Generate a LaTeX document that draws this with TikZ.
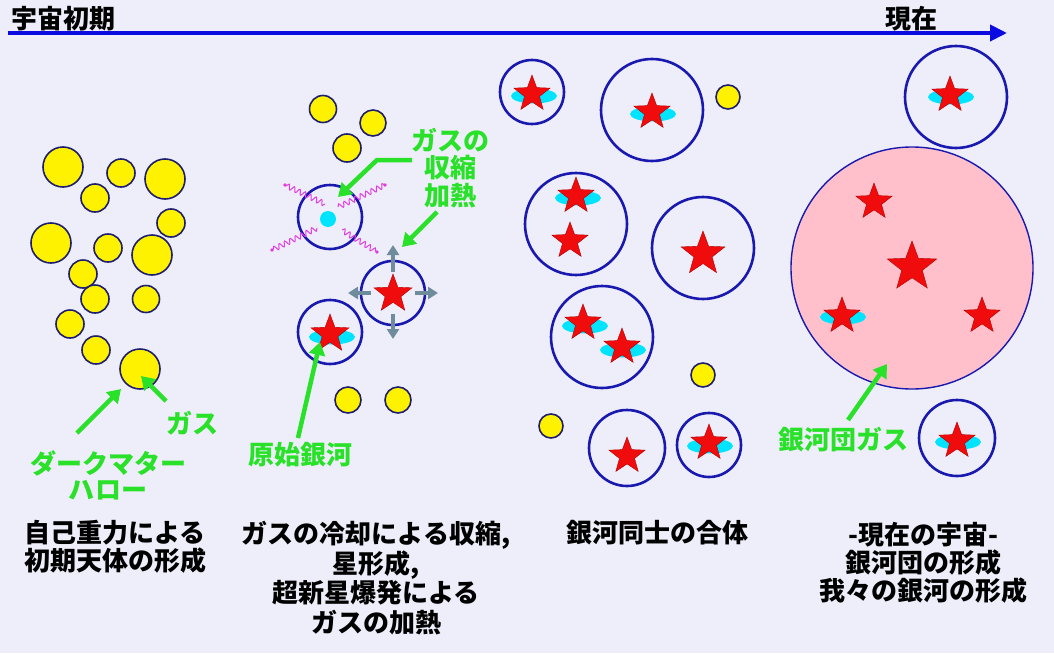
\documentclass[tikz,border=0pt]{standalone}
\usepackage{fontspec}
\newfontfamily\jp{Noto Sans CJK JP}
\usetikzlibrary{shapes.geometric,arrows.meta,decorations.pathmorphing}
\definecolor{bg}{RGB}{238,238,250}
\definecolor{tblue}{RGB}{10,10,225}
\definecolor{gblue}{RGB}{25,25,175}
\definecolor{ynavy}{RGB}{30,30,110}
\definecolor{ggreen}{RGB}{40,225,40}
\definecolor{sgrey}{RGB}{110,140,155}
\definecolor{wmag}{RGB}{225,60,225}
\definecolor{pinkfill}{RGB}{255,192,203}
\definecolor{sred}{RGB}{240,12,12}
\definecolor{dcyan}{RGB}{0,228,255}
\begin{document}
\begin{tikzpicture}[x=1pt,y=-1pt,
  ycirc/.style={circle,fill=yellow,draw=ynavy,line width=1.6pt,inner sep=0pt,minimum size=#1},
  gal/.style={circle,draw=gblue,line width=2.6pt,inner sep=0pt,minimum size=#1},
  rstar/.style={star,star points=5,star point ratio=2.4,fill=sred,draw=red!70!black,line width=0.4pt,inner sep=0pt,minimum size=#1},
  disk/.style={ellipse,fill=dcyan,inner sep=0pt,minimum width=46pt,minimum height=15pt},
  lab/.style={font={\jp\bfseries\fontsize{26}{28}\selectfont},inner sep=0pt,align=center},
  glab/.style={lab,text=ggreen},
  garr/.style={draw=ggreen,line width=4.5pt,-{Triangle[length=13pt,width=16pt]}},
  sarr/.style={draw=sgrey,line width=3.2pt,-{Triangle[length=10pt,width=12pt]}},
  wave/.style={draw=wmag,line width=1pt,decorate,decoration={snake,segment length=6pt,amplitude=2.6pt}}
]
\useasboundingbox (0,0) rectangle (1054,653);
\fill[bg] (0,0) rectangle (1054,653);

% timeline
\coordinate (tl0) at (8,33);
\coordinate (tl1) at (1007,33);
\draw[tblue,line width=4pt,-{Triangle[length=17pt,width=16pt]}] (tl0) -- (tl1);
\node[lab,anchor=west] (early) at (11,19) {宇宙初期};
\node[lab,anchor=west] (now) at (885,19) {現在};

% column 1
\node[ycirc=40] (y1) at (63,167) {};
\node[ycirc=28] (y2) at (95,198) {};
\node[ycirc=28] (y3) at (121,173) {};
\node[ycirc=40] (y4) at (165,179) {};
\node[ycirc=28] (y5) at (171,223) {};
\node[ycirc=40] (y6) at (51,243) {};
\node[ycirc=28] (y7) at (108,248) {};
\node[ycirc=40] (y8) at (152,255) {};
\node[ycirc=28] (y9) at (83,274) {};
\node[ycirc=28] (y10) at (95,299) {};
\node[ycirc=27] (y11) at (146,299) {};
\node[ycirc=28] (y12) at (70,324) {};
\node[ycirc=28] (y13) at (96,350) {};
\node[ycirc=40] (y14) at (140,369) {};

\coordinate (dm0) at (77,433);
\coordinate (dm1) at (121,389);
\draw[garr] (dm0) -- (dm1);
\coordinate (gs0) at (166,401);
\coordinate (gs1) at (141,376);
\draw[garr] (gs0) -- (gs1);
\node[glab] (lgas) at (192,423) {ガス};
\node[glab,font={\jp\bfseries\fontsize{26}{26}\selectfont}] (ldm) at (108,475) {ダークマター\\ハロー};

% column 2
\node[ycirc=27] (y15) at (323,109) {};
\node[ycirc=26] (y16) at (373,123) {};
\node[ycirc=28] (y17) at (347,148) {};
\node[ycirc=26] (y18) at (348,400) {};
\node[ycirc=26] (y19) at (398,400) {};

\node[gal=64] (g1) at (330,217) {};
\node[circle,fill=dcyan,inner sep=0pt,minimum size=16pt] (core) at (328,219) {};
\coordinate (w1a) at (285,185); \coordinate (w1b) at (325,204);
\coordinate (w2a) at (385,185); \coordinate (w2b) at (338,207);
\coordinate (w3a) at (272,250); \coordinate (w3b) at (317,228);
\coordinate (w4a) at (377,252); \coordinate (w4b) at (342,230);
\draw[wave] (w1b) -- (w1a);
\draw[wave] (w2b) -- (w2a);
\draw[wave] (w3b) -- (w3a);
\draw[wave] (w4b) -- (w4a);
\foreach \w in {w1a,w2a,w3a,w4a} \fill[wmag] (\w) circle (1.8pt);

\node[gal=64] (g2) at (393,293) {};
\node[rstar=40] (s2) at (393,294) {};
\coordinate (eu0) at (393,272); \coordinate (eu1) at (393,245);
\coordinate (ed0) at (393,314); \coordinate (ed1) at (393,339);
\coordinate (el0) at (371,293); \coordinate (el1) at (348,293);
\coordinate (er0) at (415,293); \coordinate (er1) at (438,293);
\draw[sarr] (eu0) -- (eu1);
\draw[sarr] (ed0) -- (ed1);
\draw[sarr] (el0) -- (el1);
\draw[sarr] (er0) -- (er1);

\node[gal=64] (g3) at (330,332) {};
\node[disk] (d3) at (332,337) {};
\node[rstar=40] (s3) at (330,334) {};

\node[glab,font={\jp\bfseries\fontsize{26}{27.5}\selectfont}] (lcomp) at (450,168) {ガスの\\収縮\\加熱};
\coordinate (ca0) at (412,160);
\coordinate (ca1) at (377,160);
\coordinate (ca2) at (338,197);
\draw[garr] (ca0) -- (ca1) -- (ca2);
\coordinate (cb0) at (437,212);
\coordinate (cb1) at (402,247);
\draw[garr] (cb0) -- (cb1);

\node[glab] (lproto) at (300,455) {原始銀河};
\coordinate (pa0) at (298,438);
\coordinate (pa1) at (320,342);
\draw[garr] (pa0) -- (pa1);

% column 3
\node[gal=64] (c1) at (532,92) {};
\node[disk] at (534,96) {};
\node[rstar=38] at (532,94) {};
\node[gal=102] (c2) at (652,110) {};
\node[disk] at (653,114) {};
\node[rstar=38] at (652,112) {};
\node[ycirc=24] (y20) at (728,97) {};
\node[gal=102] (c3) at (576,224) {};
\node[disk] at (578,198) {};
\node[rstar=38] at (576,196) {};
\node[rstar=38] at (570,241) {};
\node[gal=102] (c4) at (703,248) {};
\node[rstar=46] at (703,254) {};
\node[gal=102] (c5) at (602,337) {};
\node[disk] at (585,326) {};
\node[rstar=38] at (583,323) {};
\node[disk] at (623,350) {};
\node[rstar=38] at (622,347) {};
\node[ycirc=24] (y21) at (703,375) {};
\node[ycirc=24] (y22) at (551,426) {};
\node[gal=76] (c6) at (627,448) {};
\node[rstar=38] at (627,456) {};
\node[gal=64] (c7) at (709,445) {};
\node[disk] at (710,446) {};
\node[rstar=38] at (709,443) {};

% column 4
\node[gal=102] (h1) at (956,97) {};
\node[disk] at (951,97) {};
\node[rstar=38] at (950,95) {};
\node[circle,fill=pinkfill,draw=gblue,line width=1.4pt,inner sep=0pt,minimum size=242pt] (cl) at (912,268) {};
\node[rstar=38] at (874,202) {};
\node[rstar=52] at (912,267) {};
\node[disk] at (843,317) {};
\node[rstar=38] at (842,316) {};
\node[rstar=38] at (982,316) {};
\node[gal=76] (h2) at (957,438) {};
\node[disk] at (958,442) {};
\node[rstar=38] at (957,441) {};
\coordinate (ka0) at (848,420);
\coordinate (ka1) at (887,364);
\draw[garr] (ka0) -- (ka1);
\node[glab] (lcl) at (843,440) {銀河団ガス};

% captions
\node[lab,anchor=north] (cap1) at (115,520) {自己重力による\\初期天体の形成};
\node[lab,anchor=north,font={\jp\bfseries\fontsize{26}{29.5}\selectfont}] (cap2) at (376,521) {ガスの冷却による収縮,\\星形成,\\超新星爆発による\\ガスの加熱};
\node[lab,anchor=north] (cap3) at (657,520) {銀河同士の合体};
\node[lab,anchor=north] (cap4) at (923,522) {-現在の宇宙-\\銀河団の形成\\我々の銀河の形成};
\end{tikzpicture}
\end{document}
